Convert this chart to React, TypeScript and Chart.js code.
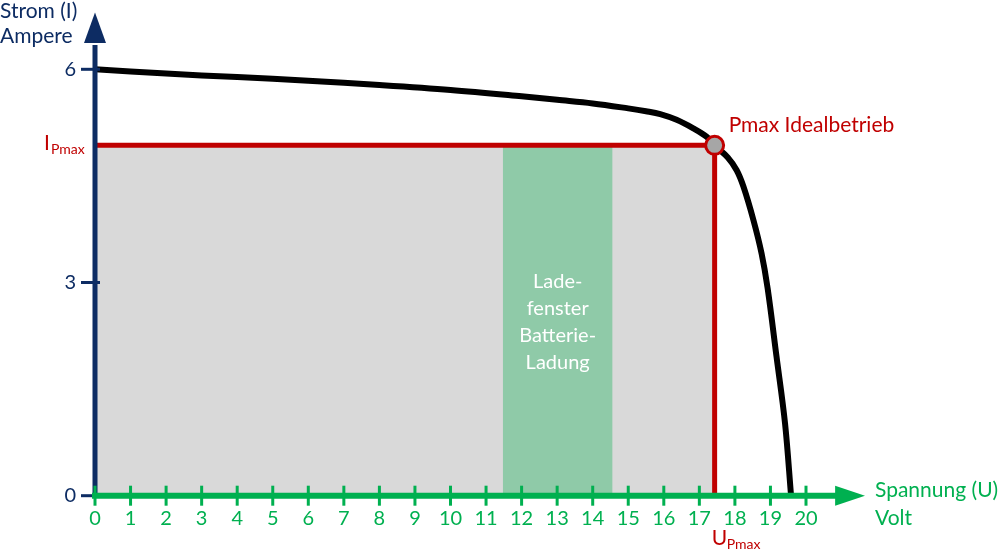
import React, { useEffect, useRef } from "react";
import { Chart, registerables } from "chart.js";
Chart.register(...registerables);

// I-U curve of the solar module (voltage U in Volt, current I in Ampere)
const curveU = [0, 2, 4, 6, 8, 10, 12, 13, 14, 15, 15.5, 15.9, 16.36, 16.83, 17.21, 17.43, 17.8, 18.05, 18.24, 18.52, 18.75, 18.92, 19.17, 19.41, 19.58];
const curveI = [6.0, 5.94, 5.89, 5.84, 5.78, 5.71, 5.62, 5.57, 5.52, 5.45, 5.41, 5.37, 5.29, 5.17, 5.05, 4.93, 4.76, 4.58, 4.35, 3.88, 3.41, 2.92, 1.96, 1.02, 0];

// Maximum power point
const pmaxU = 17.43;
const pmaxI = 4.93;

// Charging window (battery)
const ladeStartU = 11.47;
const ladeEndU = 14.56;
const ladeLines = ["Lade-", "fenster", "Batterie-", "Ladung"];

// Axes
const xTickValues = [0, 1, 2, 3, 4, 5, 6, 7, 8, 9, 10, 11, 12, 13, 14, 15, 16, 17, 18, 19, 20];
const yTickValues = [0, 3, 6];
const xMax = 21.5;
const yMax = 6.75;
const xArrowTip = 21.66;
const xArrowBase = 20.82;
const yArrowTip = 6.8;
const yArrowBase = 6.37;

const yTitle = ["Strom (I)", "Ampere"];
const xTitle = ["Spannung (U)", "Volt"];
const pmaxLabel = "Pmax Idealbetrieb";

const FONT = "Lato, 'Open Sans', sans-serif";
const NAVY = "#0d2c63";
const GREEN = "#00b050";
const RED = "#c00000";
const GRAY = "#d9d9d9";
const LADE = "#8fcaa8";

const overlayPlugin = {
  id: "overlay",
  afterDatasetsDraw(chart: any) {
    const ctx = chart.ctx;
    const xs = chart.scales.x;
    const ys = chart.scales.y;
    const x0 = xs.getPixelForValue(0);
    const y0 = ys.getPixelForValue(0);
    ctx.save();

    // Ladefenster text
    const cx = (xs.getPixelForValue(ladeStartU) + xs.getPixelForValue(ladeEndU)) / 2;
    ctx.fillStyle = "#ffffff";
    ctx.font = `20px ${FONT}`;
    ctx.textAlign = "center";
    ctx.textBaseline = "alphabetic";
    ladeLines.forEach((t, i) => ctx.fillText(t, cx, 288 + i * 27));

    // Y axis line + arrow
    ctx.strokeStyle = NAVY;
    ctx.fillStyle = NAVY;
    ctx.lineWidth = 5;
    ctx.beginPath();
    ctx.moveTo(x0, y0 + 1);
    ctx.lineTo(x0, ys.getPixelForValue(yArrowBase) + 2);
    ctx.stroke();
    ctx.beginPath();
    ctx.moveTo(x0, ys.getPixelForValue(yArrowTip));
    ctx.lineTo(x0 - 11, ys.getPixelForValue(yArrowBase));
    ctx.lineTo(x0 + 11, ys.getPixelForValue(yArrowBase));
    ctx.closePath();
    ctx.fill();
    // y ticks
    ctx.lineWidth = 3;
    yTickValues.forEach((v) => {
      const p = ys.getPixelForValue(v);
      ctx.beginPath();
      ctx.moveTo(x0 - 14, p);
      ctx.lineTo(x0 + 5, p);
      ctx.stroke();
    });

    // X axis line + arrow
    ctx.strokeStyle = GREEN;
    ctx.fillStyle = GREEN;
    ctx.lineWidth = 6;
    ctx.beginPath();
    ctx.moveTo(x0 - 3, y0);
    ctx.lineTo(xs.getPixelForValue(xArrowBase) + 2, y0);
    ctx.stroke();
    ctx.beginPath();
    ctx.moveTo(xs.getPixelForValue(xArrowTip), y0);
    ctx.lineTo(xs.getPixelForValue(xArrowBase), y0 - 10);
    ctx.lineTo(xs.getPixelForValue(xArrowBase), y0 + 10);
    ctx.closePath();
    ctx.fill();
    ctx.lineWidth = 3;
    xTickValues.forEach((v) => {
      const p = xs.getPixelForValue(v);
      ctx.beginPath();
      ctx.moveTo(p, y0 - 10);
      ctx.lineTo(p, y0 + 10);
      ctx.stroke();
    });

    // Axis titles
    ctx.textAlign = "left";
    ctx.font = `21px ${FONT}`;
    ctx.fillStyle = NAVY;
    ctx.fillText(yTitle[0], 0, 18);
    ctx.fillText(yTitle[1], 0, 43);
    ctx.fillStyle = GREEN;
    ctx.fillText(xTitle[0], 875, 497);
    ctx.fillText(xTitle[1], 875, 525);

    // Red labels
    ctx.fillStyle = RED;
    ctx.font = `21px ${FONT}`;
    const px = xs.getPixelForValue(pmaxU);
    const py = ys.getPixelForValue(pmaxI);
    ctx.fillText(pmaxLabel, px + 14, py - 13);
    // I_Pmax
    ctx.font = `21px ${FONT}`;
    ctx.fillText("I", 44, py + 5);
    ctx.font = `14px ${FONT}`;
    ctx.fillText("Pmax", 51, py + 9);
    // U_Pmax
    ctx.font = `21px ${FONT}`;
    ctx.fillText("U", px - 3, 545);
    ctx.font = `14px ${FONT}`;
    ctx.fillText("Pmax", px + 12, 549);

    ctx.restore();
  },
};

export default function App() {
  const ref = useRef<HTMLCanvasElement | null>(null);
  useEffect(() => {
    if (!ref.current) return;
    const curve = curveU.map((u, i) => ({ x: u, y: curveI[i] }));
    const chart = new Chart(ref.current, {
      type: "line",
      data: {
        datasets: [
          {
            label: "Pmax",
            data: [{ x: pmaxU, y: pmaxI }],
            showLine: false,
            pointRadius: 9,
            pointBackgroundColor: "#a6a6a6",
            pointBorderColor: RED,
            pointBorderWidth: 3,
            clip: false,
          } as any,
          {
            label: "Kennlinie",
            data: curve,
            borderColor: "#000000",
            borderWidth: 6,
            pointRadius: 0,
            tension: 0.35,
            fill: false,
          },
          {
            label: "Pmax-Linien",
            data: [
              { x: 0, y: pmaxI },
              { x: pmaxU, y: pmaxI },
              { x: pmaxU, y: 0 },
            ],
            borderColor: RED,
            borderWidth: 5,
            pointRadius: 0,
            tension: 0,
            fill: false,
          },
          {
            label: "Ladefenster",
            data: [
              { x: ladeStartU, y: pmaxI },
              { x: ladeEndU, y: pmaxI },
            ],
            borderWidth: 0,
            borderColor: "rgba(0,0,0,0)",
            backgroundColor: LADE,
            pointRadius: 0,
            fill: "origin",
          },
          {
            label: "Leistung",
            data: [
              { x: 0, y: pmaxI },
              { x: pmaxU, y: pmaxI },
            ],
            borderWidth: 0,
            borderColor: "rgba(0,0,0,0)",
            backgroundColor: GRAY,
            pointRadius: 0,
            fill: "origin",
          },
        ],
      },
      options: {
        animation: false,
        responsive: false,
        layout: { padding: { top: 16, right: 1000 - 95 - xMax * 35.55, left: 0, bottom: 0 } },
        plugins: { legend: { display: false }, tooltip: { enabled: false } },
        scales: {
          x: {
            type: "linear",
            min: 0,
            max: xMax,
            grid: { display: false, drawTicks: false },
            border: { display: false },
            ticks: {
              color: GREEN,
              font: { family: FONT, size: 20 },
              padding: 11,
              maxRotation: 0,
              autoSkip: false,
              callback: (v: any) => String(v),
            },
            afterBuildTicks: (s: any) => {
              s.ticks = xTickValues.map((v) => ({ value: v }));
            },
            afterFit: (s: any) => {
              s.height = 552 - 495.7;
              s.paddingLeft = 0;
              s.paddingRight = 0;
            },
          },
          y: {
            type: "linear",
            min: 0,
            max: yMax,
            grid: { display: false, drawTicks: false },
            border: { display: false },
            ticks: {
              color: NAVY,
              font: { family: FONT, size: 20 },
              padding: 19,
              callback: (v: any) => String(v),
            },
            afterBuildTicks: (s: any) => {
              s.ticks = yTickValues.map((v) => ({ value: v }));
            },
            afterFit: (s: any) => {
              s.width = 95;
              s.paddingTop = 0;
              s.paddingBottom = 0;
            },
          },
        },
      },
      plugins: [overlayPlugin],
    } as any);
    return () => chart.destroy();
  }, []);
  return (
    <div style={{ position: "fixed", left: 0, top: 0, width: 1000, height: 552, background: "#fff" }}>
      <canvas ref={ref} width={1000} height={552} />
    </div>
  );
}
